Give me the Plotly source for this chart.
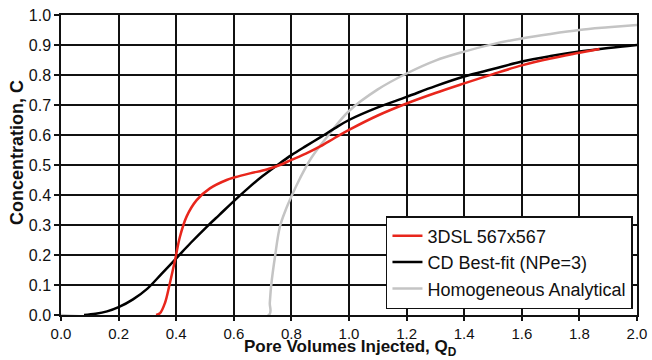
import plotly.graph_objects as go

# Homogeneous Analytical (gray)
homog_x = [0.0, 0.722, 0.725, 0.73, 0.743, 0.76, 0.78, 0.8, 0.83, 0.87, 0.934, 1.0, 1.1, 1.2,
           1.3, 1.4, 1.5, 1.6, 1.7, 1.8, 1.9, 2.0]
homog_y = [0.0, 0.0, 0.04, 0.1, 0.194, 0.294, 0.35, 0.395, 0.456, 0.525, 0.606, 0.68, 0.752, 0.805,
           0.848, 0.878, 0.903, 0.922, 0.937, 0.95, 0.959, 0.967]

# CD Best-fit (NPe=3) (black)
cd_x = [0.08, 0.12, 0.16, 0.2, 0.25, 0.3, 0.35, 0.405, 0.45, 0.506, 0.55, 0.604, 0.65, 0.7,
        0.76, 0.8, 0.85, 0.9, 0.95, 1.0, 1.1, 1.2, 1.3, 1.4, 1.5, 1.6, 1.7, 1.8, 1.9, 2.0]
cd_y = [0.0, 0.004, 0.012, 0.026, 0.052, 0.088, 0.138, 0.194, 0.24, 0.294, 0.334, 0.383, 0.423, 0.463,
        0.506, 0.533, 0.563, 0.592, 0.622, 0.65, 0.692, 0.727, 0.763, 0.795, 0.82, 0.845, 0.863,
        0.878, 0.89, 0.9]

# 3DSL 567x567 (red)
sl_x = [0.33, 0.344, 0.361, 0.378, 0.396, 0.413, 0.436, 0.471, 0.517, 0.575, 0.604, 0.656,
        0.714, 0.76, 0.8, 0.85, 0.9, 0.95, 1.0, 1.1, 1.2, 1.3, 1.4, 1.5, 1.6, 1.7, 1.8, 1.87]
sl_y = [0.0, 0.006, 0.04, 0.106, 0.183, 0.261, 0.328, 0.383, 0.422, 0.45, 0.459, 0.472,
        0.485, 0.5, 0.517, 0.538, 0.562, 0.59, 0.617, 0.665, 0.705, 0.74, 0.772, 0.803, 0.832,
        0.855, 0.874, 0.887]

x_ticks = [0.0, 0.2, 0.4, 0.6, 0.8, 1.0, 1.2, 1.4, 1.6, 1.8, 2.0]
y_ticks = [0.0, 0.1, 0.2, 0.3, 0.4, 0.5, 0.6, 0.7, 0.8, 0.9, 1.0]

x_title = "<b>Pore Volumes Injected, Q<sub>D</sub></b>"
y_title = "<b>Concentration, C</b>"

FONT = "Arial, Liberation Sans, sans-serif"
INK = "#111111"

fig = go.Figure()
fig.add_trace(go.Scatter(x=homog_x, y=homog_y, mode="lines", name="Homogeneous Analytical",
                         line=dict(color="#c4c4c4", width=2.5, shape="spline", smoothing=1.0),
                         legendrank=3))
fig.add_trace(go.Scatter(x=cd_x, y=cd_y, mode="lines", name="CD Best-fit (NPe=3)",
                         line=dict(color="#000000", width=2.5, shape="spline", smoothing=1.0),
                         legendrank=2))
fig.add_trace(go.Scatter(x=sl_x, y=sl_y, mode="lines", name="3DSL 567x567",
                         line=dict(color="#e8261c", width=2.5, shape="spline", smoothing=1.0),
                         legendrank=1))

fig.update_layout(
    width=652, height=360,
    margin=dict(l=61, r=15, t=15, b=45),
    paper_bgcolor="white", plot_bgcolor="white",
    font=dict(family=FONT, color=INK, size=15),
    showlegend=True,
    legend=dict(x=0.993, y=0.33, xanchor="right", yanchor="top",
                bgcolor="white", bordercolor=INK, borderwidth=1.5,
                font=dict(family=FONT, size=18, color=INK),
                tracegroupgap=0, itemwidth=30),
    xaxis=dict(range=[0, 2.0], tickvals=x_ticks, ticktext=[f"{v:.1f}" for v in x_ticks],
               showgrid=True, gridcolor=INK, gridwidth=1.5, automargin=False,
               showline=True, linecolor=INK, linewidth=1.5, mirror=True,
               ticks="outside", ticklen=4, tickcolor=INK, tickwidth=1.5,
               tickfont=dict(size=15), zeroline=False),
    yaxis=dict(range=[0, 1.0], tickvals=y_ticks, ticktext=[f"{v:.1f}" for v in y_ticks],
               showgrid=True, gridcolor=INK, gridwidth=1.5, automargin=False,
               showline=True, linecolor=INK, linewidth=1.5, mirror=True,
               ticks="outside", ticklen=5, tickcolor=INK, tickwidth=1.5,
               tickfont=dict(size=16), zeroline=False),
    annotations=[
        dict(text=x_title, xref="paper", yref="paper", x=0.503, y=-0.153,
             xanchor="center", yanchor="bottom", showarrow=False,
             font=dict(family=FONT, size=17, color=INK)),
        dict(text=y_title, xref="paper", yref="paper", x=-0.0764, y=0.543,
             xanchor="center", yanchor="middle", textangle=-90, showarrow=False,
             font=dict(family=FONT, size=18, color=INK)),
    ],
)

fig.write_html("out.html")
